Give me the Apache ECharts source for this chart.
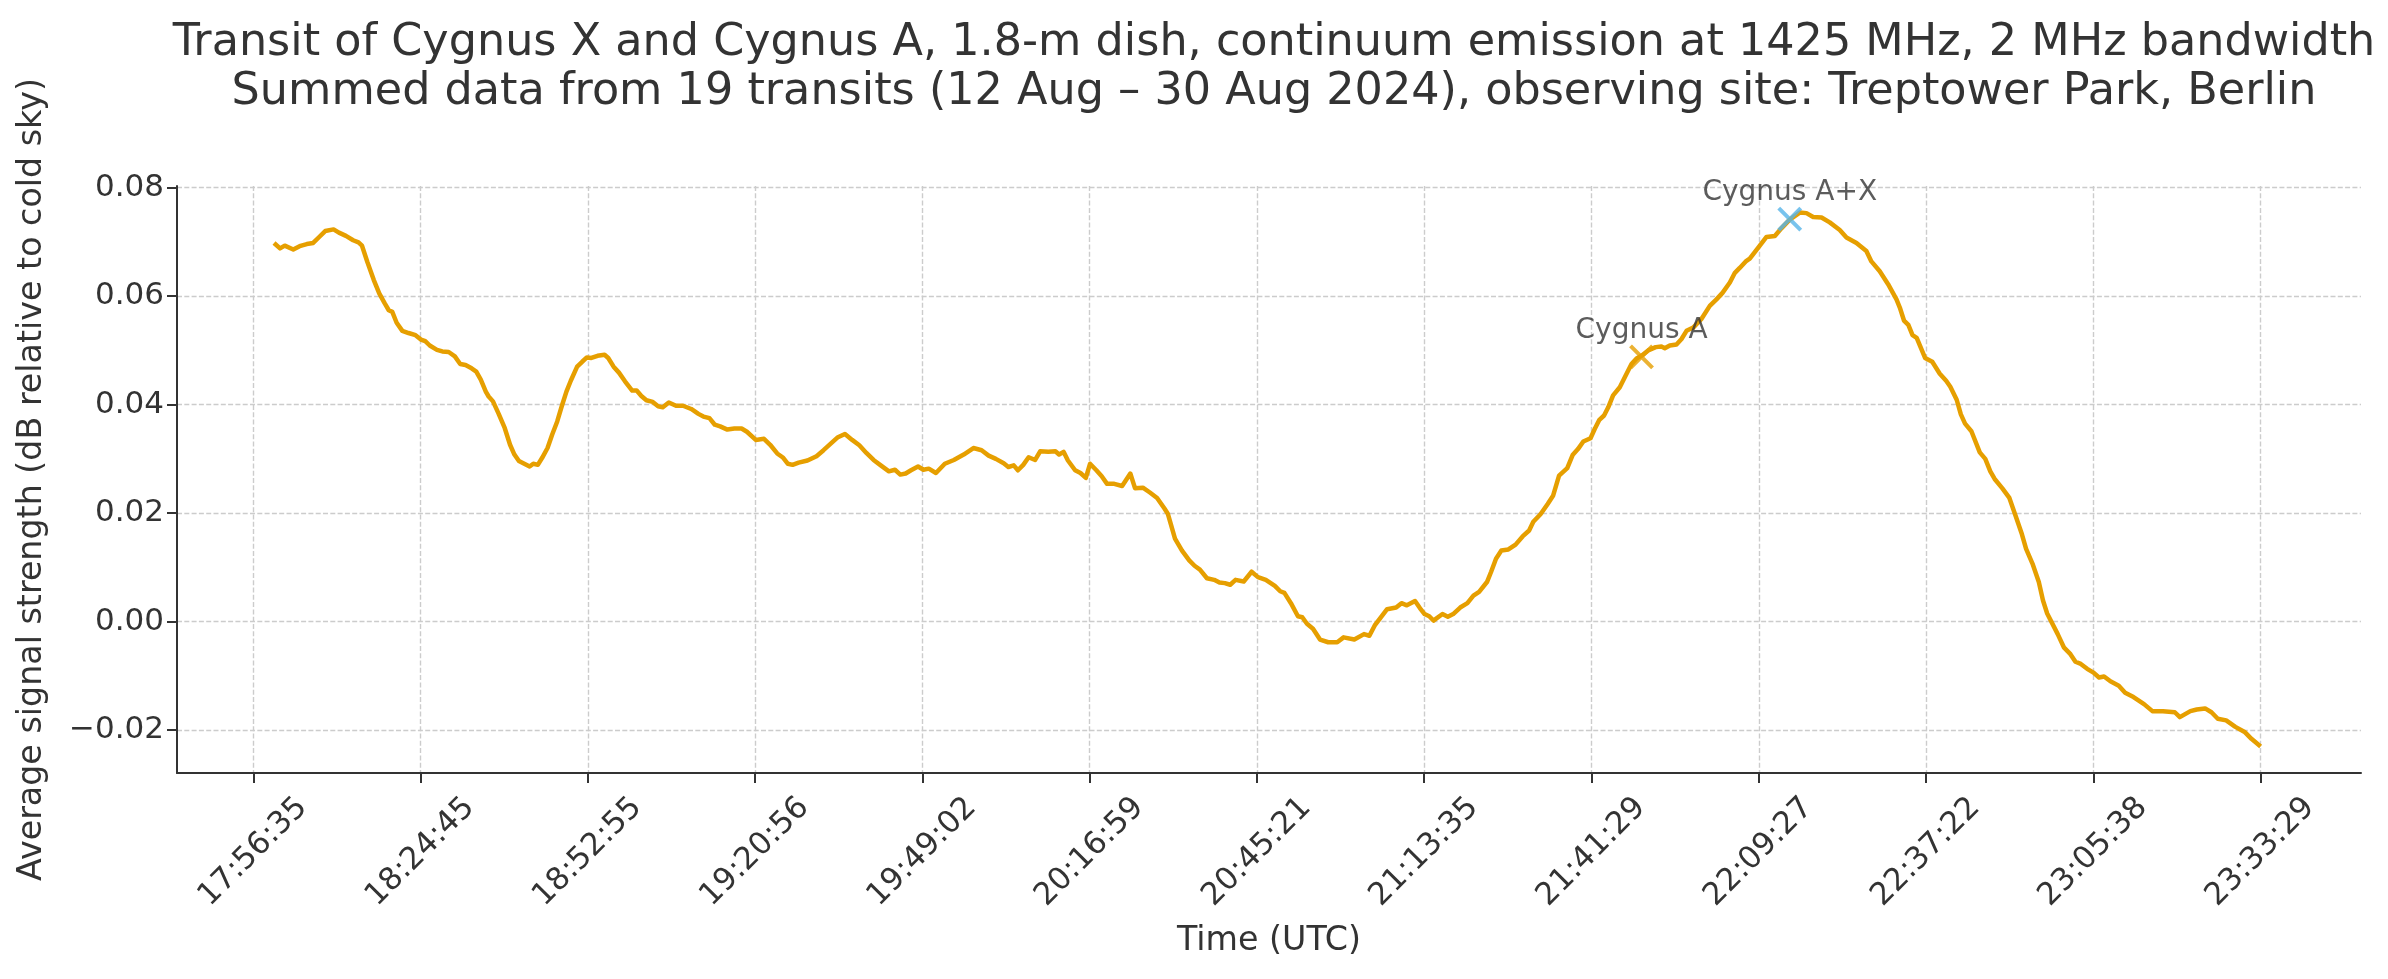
<!DOCTYPE html>
<html><head><meta charset="utf-8">
<script src="https://cdn.jsdelivr.net/npm/echarts@6/dist/echarts.min.js"></script>
<style>html,body{margin:0;padding:0;background:#fff}#chart{width:2388px;height:979px}</style>
</head><body><div id="chart"></div>
<script>
// Tick labels of the time axis (one per tick position 0..12)
const tickLabels = ['17:56:35','18:24:45','18:52:55','19:20:56','19:49:02','20:16:59','20:45:21','21:13:35','21:41:29','22:09:27','22:37:22','23:05:38','23:33:29'];
const tickPos = tickLabels.map((_, i) => i);
const yTicks = [-0.02, 0, 0.02, 0.04, 0.06, 0.08];

// Sample positions (in tick units along the time axis) and the signal values
const sampleX = [
0.124,0.16,0.188,0.239,0.277,0.32,0.358,0.394,0.43,0.48,0.512,0.554,0.597,0.629,0.65,0.682,0.72,0.753,0.785,0.81,
0.831,0.857,0.891,0.928,0.97,1.002,1.028,1.055,1.098,1.13,1.168,1.205,1.237,1.269,1.305,1.333,1.36,1.39,1.407,1.433,
1.467,1.503,1.535,1.561,1.588,1.62,1.652,1.674,1.701,1.727,1.759,1.787,1.817,1.844,1.872,1.898,1.936,1.966,1.994,2.021,
2.058,2.1,2.122,2.154,2.186,2.222,2.265,2.292,2.32,2.35,2.388,2.42,2.448,2.484,2.527,2.569,2.618,2.661,2.691,
2.727,2.759,2.791,2.834,2.876,2.919,2.951,3.004,3.053,3.09,3.132,3.168,3.196,3.224,3.26,3.313,3.367,3.409,3.452,3.495,
3.537,3.58,3.623,3.665,3.708,3.751,3.8,3.836,3.868,3.9,3.932,3.974,4.006,4.038,4.081,4.134,4.188,4.247,4.305,4.354,
4.396,4.439,4.486,4.514,4.546,4.571,4.603,4.635,4.674,4.704,4.753,4.795,4.817,4.844,4.87,4.913,4.945,4.977,5.002,5.04,
5.072,5.104,5.147,5.194,5.243,5.271,5.318,5.36,5.403,5.446,5.467,5.51,5.552,
5.595,5.627,5.659,5.701,5.744,5.776,5.808,5.84,5.872,5.921,5.968,6.006,6.053,6.107,6.139,6.164,6.203,6.245,6.271,6.299,
6.335,6.377,6.426,6.48,6.518,6.582,6.64,6.672,6.704,6.736,6.778,6.832,6.864,6.896,6.945,6.974,7.002,7.03,7.055,7.109,
7.141,7.173,7.215,7.258,7.294,7.328,7.375,7.4,7.429,7.461,7.503,7.546,7.588,7.627,7.652,7.695,7.738,7.77,7.806,7.855,
7.887,7.919,7.951,7.994,8.019,8.047,8.075,
8.1,8.129,8.169,8.205,8.239,8.269,8.299,8.339,8.384,8.418,8.438,8.468,8.508,8.538,8.568,8.608,8.657,8.707,8.747,8.783,
8.827,8.857,8.886,8.922,8.946,8.976,9.006,9.046,9.096,9.135,9.185,9.245,9.285,9.325,9.375,9.424,9.484,9.524,9.584,9.643,
9.673,9.723,9.773,9.823,9.843,
9.868,9.894,9.919,9.944,9.994,10.037,10.082,10.12,10.145,10.183,10.208,10.233,10.271,10.321,10.354,10.384,10.41,10.455,10.498,10.535,
10.573,10.598,10.636,10.674,10.699,10.724,10.787,10.825,10.863,10.893,10.925,10.963,11.001,11.034,11.064,11.102,11.152,11.19,11.24,11.303,
11.353,11.416,11.487,11.517,11.58,11.618,11.668,11.706,11.744,11.794,11.849,11.907,11.945,12.0
];
const signal = [
0.0698,0.0688,0.0693,0.0686,0.0692,0.0696,0.0698,0.0709,0.0720,0.0723,0.0717,0.0711,0.0703,0.0699,0.0693,0.0663,0.0630,0.0605,0.0587,0.0574,
0.0571,0.0551,0.0536,0.0532,0.0528,0.0520,0.0517,0.0509,0.0501,0.0498,0.0497,0.0489,0.0475,0.0473,0.0467,0.0461,0.0446,0.0424,0.0415,0.0406,
0.0383,0.0357,0.0326,0.0308,0.0296,0.0291,0.0286,0.0291,0.0289,0.0302,0.0320,0.0345,0.0369,0.0397,0.0424,0.0444,0.0470,0.0479,0.0487,0.0486,
0.0490,0.0492,0.0486,0.0470,0.0459,0.0443,0.0426,0.0426,0.0416,0.0408,0.0405,0.0397,0.0395,0.0404,0.0398,0.0398,0.0392,0.0383,0.0378,
0.0375,0.0363,0.0360,0.0354,0.0356,0.0356,0.0350,0.0335,0.0337,0.0326,0.0310,0.0302,0.0291,0.0289,0.0293,0.0297,0.0305,0.0316,0.0328,0.0340,
0.0346,0.0335,0.0325,0.0311,0.0298,0.0288,0.0277,0.0280,0.0271,0.0273,0.0279,0.0286,0.0280,0.0282,0.0274,0.0291,0.0298,0.0308,0.0320,0.0316,
0.0306,0.0300,0.0292,0.0285,0.0288,0.0279,0.0289,0.0303,0.0298,0.0314,0.0313,0.0314,0.0308,0.0313,0.0297,0.0279,0.0274,0.0265,0.0291,0.0279,
0.0268,0.0254,0.0254,0.0250,0.0273,0.0246,0.0247,0.0238,0.0228,0.0209,0.0199,0.0153,0.0131,
0.0113,0.0103,0.0096,0.0080,0.0077,0.0072,0.0071,0.0068,0.0077,0.0074,0.0092,0.0082,0.0077,0.0066,0.0056,0.0053,0.0034,0.0010,0.0008,-0.0004,
-0.0013,-0.0033,-0.0038,-0.0038,-0.0029,-0.0033,-0.0023,-0.0026,-0.0007,0.0006,0.0023,0.0026,0.0034,0.0030,0.0038,0.0025,0.0014,0.0010,0.0002,0.0014,
0.0009,0.0014,0.0026,0.0034,0.0048,0.0055,0.0073,0.0092,0.0116,0.0131,0.0133,0.0142,0.0157,0.0168,0.0184,0.0198,0.0217,0.0232,0.0269,0.0283,
0.0307,0.0318,0.0332,0.0338,0.0355,0.0372,0.0380,
0.0395,0.0417,0.0432,0.0454,0.0475,0.0485,0.0490,0.0500,0.0506,0.0507,0.0504,0.0509,0.0511,0.0521,0.0536,0.0542,0.0558,0.0582,0.0594,0.0606,
0.0625,0.0643,0.0652,0.0664,0.0669,0.0681,0.0693,0.0709,0.0711,0.0725,0.0741,0.0754,0.0753,0.0746,0.0745,0.0736,0.0722,0.0708,0.0698,0.0683,
0.0664,0.0646,0.0622,0.0594,0.0579,
0.0555,0.0547,0.0528,0.0523,0.0486,0.0479,0.0457,0.0444,0.0433,0.0409,0.0382,0.0365,0.0351,0.0312,0.0300,0.0277,0.0263,0.0246,0.0228,0.0195,
0.0161,0.0134,0.0107,0.0073,0.0039,0.0015,-0.0023,-0.0048,-0.0060,-0.0074,-0.0078,-0.0087,-0.0094,-0.0103,-0.0101,-0.0110,-0.0118,-0.0131,-0.0139,-0.0152,
-0.0165,-0.0165,-0.0167,-0.0176,-0.0165,-0.0162,-0.0160,-0.0167,-0.0179,-0.0182,-0.0194,-0.0204,-0.0216,-0.0230
];

// Annotated sources
const markerNames = ['Cygnus A', 'Cygnus A+X'];
const markerX = [8.299, 9.185];
const markerY = [0.0488, 0.0742];
const markerColors = ['#E69F00', '#56B4E9'];

const FONT = 'DejaVu Sans';
const TXT = '#333333';
const chart = echarts.init(document.getElementById('chart'), null, {renderer: 'canvas'});

const lineData = sampleX.map((x, i) => [x, signal[i]]);
const markData = markerX.map((x, i) => ({
  value: [x, markerY[i]],
  name: markerNames[i],
  itemStyle: {color: 'rgba(0,0,0,0)', borderColor: markerColors[i], borderWidth: 4}
}));

chart.setOption({
  animation: false,
  backgroundColor: '#ffffff',
  textStyle: {fontFamily: FONT},
  title: {
    text: 'Transit of Cygnus X and Cygnus A, 1.8-m dish, continuum emission at 1425 MHz, 2 MHz bandwidth\nSummed data from 19 transits (12 Aug \u2013 30 Aug 2024), observing site: Treptower Park, Berlin',
    left: 1269, top: 14, textAlign: 'center',
    textStyle: {fontFamily: FONT, fontSize: 44.5, fontWeight: 'normal', color: TXT, lineHeight: 49}
  },
  grid: {left: 177, right: 27, top: 186, bottom: 206, containLabel: false},
  xAxis: {
    type: 'value', min: -0.456, max: 12.6,
    axisLine: {show: true, onZero: false, lineStyle: {color: TXT, width: 2}},
    axisTick: {show: true, customValues: tickPos, length: 10, lineStyle: {color: TXT, width: 2}},
    axisLabel: {
      customValues: tickPos,
      formatter: v => tickLabels[Math.round(v)],
      rotate: 45, align: 'center', verticalAlign: 'middle', margin: 79,
      fontSize: 31, color: TXT, fontFamily: FONT
    },
    splitLine: {show: true, lineStyle: {color: '#cccccc', width: 1.4, type: [5, 2.3]}},
    name: 'Time (UTC)', nameLocation: 'middle', nameGap: 152,
    nameTextStyle: {fontSize: 33.3, color: TXT, fontFamily: FONT}
  },
  yAxis: {
    type: 'value', min: -0.0279, max: 0.0803,
    axisLine: {show: true, onZero: false, lineStyle: {color: TXT, width: 2}},
    axisTick: {show: true, customValues: yTicks, length: 10, lineStyle: {color: TXT, width: 2}},
    axisLabel: {
      customValues: yTicks,
      formatter: v => (v < -1e-9 ? '\u2212' : '') + Math.abs(v).toFixed(2),
      margin: 13, fontSize: 31, color: TXT, fontFamily: FONT
    },
    splitLine: {show: true, lineStyle: {color: '#cccccc', width: 1.4, type: [5, 2.3]}},
    name: 'Average signal strength (dB relative to cold sky)', nameLocation: 'middle', nameGap: 128,
    nameTextStyle: {fontSize: 33.3, color: TXT, fontFamily: FONT}
  },
  series: [
    {
      type: 'line', data: lineData, showSymbol: false, symbol: 'none', z: 2,
      lineStyle: {color: '#E69F00', width: 4.5, join: 'round'}
    },
    {
      type: 'scatter', data: markData, z: 3,
      symbol: 'path://M0,0L10,10M10,0L0,10', symbolSize: 22,
      label: {
        show: true, position: 'top', distance: -1,
        formatter: p => p.name, fontSize: 28, color: TXT, fontFamily: FONT
      }
    }
  ]
});
</script>
</body></html>
